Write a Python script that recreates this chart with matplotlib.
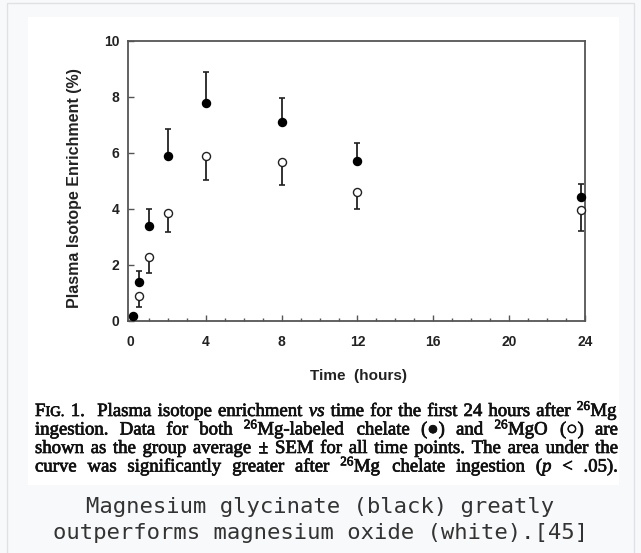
import matplotlib
matplotlib.use("Agg")
import matplotlib.pyplot as plt
import matplotlib.patheffects as pe
from matplotlib.patches import Rectangle
from matplotlib.ticker import MultipleLocator
from matplotlib.transforms import IdentityTransform

# Plasma isotope enrichment (%)
chelate_time = [0.17, 0.5, 1, 2, 4, 8, 12, 23.8]
chelate_mean = [0.17, 1.39, 3.41, 5.89, 7.77, 7.11, 5.71, 4.43]
chelate_sem = [0, 0.38, 0.59, 0.95, 1.12, 0.84, 0.65, 0.45]

oxide_time = [0.5, 1, 2, 4, 8, 12, 23.8]
oxide_mean = [0.91, 2.27, 3.84, 5.89, 5.67, 4.61, 3.98]
oxide_sem = [0.40, 0.57, 0.66, 0.84, 0.83, 0.61, 0.75]

x_ticks = [0, 4, 8, 12, 16, 20, 24]
y_ticks = [0, 2, 4, 6, 8, 10]

W, H = 641, 553
plt.rcParams["mathtext.fontset"] = "custom"
plt.rcParams["mathtext.rm"] = "Liberation Serif"
plt.rcParams["mathtext.it"] = "Liberation Serif:italic"

fig = plt.figure(figsize=(W / 100, H / 100), dpi=100, facecolor="#f8f9fa")
px = IdentityTransform()

# page frame + white scanned image area (behind the axes)
fig.patches.append(Rectangle((7, -5), W - 14, H + 2, transform=px,
                             facecolor="none", edgecolor="#dfe1e4", lw=1, zorder=-2))
fig.patches.append(Rectangle((28, H - 485), 591, 468, transform=px,
                             facecolor="white", edgecolor="none", zorder=-1))

# axes placed in pixel terms
left, right, top, bottom = 127.5, 585, 41, 321
ax = fig.add_axes([left / W, (H - bottom) / H, (right - left) / W, (bottom - top) / H])
ax.set_xlim(-0.13, 24.0)
ax.set_ylim(0, 10)

ink = "#222222"
tick_font = dict(family="Liberation Sans", weight="bold", size=10)

# one-sided SEM bars: chelate up, oxide down
c_idx = [i for i, s in enumerate(chelate_sem) if s > 0]
ax.errorbar([chelate_time[i] for i in c_idx], [chelate_mean[i] for i in c_idx],
            yerr=[[0] * len(c_idx), [chelate_sem[i] for i in c_idx]],
            fmt="none", ecolor=ink, elinewidth=1.3, capsize=2.5, capthick=1.2, clip_on=False)
ax.errorbar(oxide_time, oxide_mean, yerr=[oxide_sem, [0] * len(oxide_sem)],
            fmt="none", ecolor=ink, elinewidth=1.3, capsize=2.5, capthick=1.2, clip_on=False)
ax.plot(chelate_time, chelate_mean, "o", ms=5.8, mfc="black", mec="black", zorder=4, clip_on=False)
ax.plot(oxide_time, oxide_mean, "o", ms=5.8, mfc="white", mec=ink, mew=1.0, zorder=4, clip_on=False)

for sp in ax.spines.values():
    sp.set_color("#555555")
    sp.set_linewidth(1.3)

ax.set_xticks(x_ticks)
ax.set_yticks(y_ticks)
ax.xaxis.set_minor_locator(MultipleLocator(1))
ax.tick_params(axis="both", which="major", direction="in", length=4, width=1, color="#555555")
ax.tick_params(axis="x", which="minor", direction="in", length=2.5, width=1, color="#555555")
ax.tick_params(axis="x", pad=10)
ax.tick_params(axis="y", pad=6)
for lab in ax.get_xticklabels() + ax.get_yticklabels():
    lab.set_fontproperties(tick_font)
    lab.set_color(ink)

ax.set_xlabel("Time  (hours)", fontfamily="Liberation Sans", fontweight="bold", fontsize=11, color=ink)
ax.set_ylabel("Plasma Isotope Enrichment (%)", fontfamily="Liberation Sans", fontweight="bold",
              fontsize=11.5, color=ink)
ax.xaxis.set_label_coords(0.504, -0.172)
ax.yaxis.set_label_coords(-0.1, 0.475)

# justified journal caption
serif = dict(family=["Liberation Serif", "DejaVu Serif"], size=13.5, color="#111111")
thick = [pe.withStroke(linewidth=0.5, foreground="#111111")]
it = {"style": "italic"}
caption_lines = [
    [[("F", {}), ("IG.", {"size": 10.5})], "1.", "", "Plasma", "isotope", "enrichment",
     [("vs", it)], "time", "for", "the", "first", "24", "hours", "after", r"$^{26}$Mg"],
    ["ingestion.", "Data", "for", "both", r"$^{26}$Mg-labeled", "chelate", "(\u25cf)", "and",
     r"$^{26}$MgO", "(\u25cb)", "are"],
    ["shown", "as", "the", "group", "average", "\u00b1", "SEM", "for", "all", "time", "points.",
     "The", "area", "under", "the"],
    ["curve", "was", "significantly", "greater", "after", r"$^{26}$Mg", "chelate", "ingestion",
     [("(", {}), ("p", it)], "<", ".05)."],
]
baselines = [416, 434.5, 453, 471.5]
x0, x1 = 35, 618

renderer = fig.canvas.get_renderer()
for words, yb in zip(caption_lines, baselines):
    groups = []
    for w in words:
        pieces = [(w, {})] if isinstance(w, str) else w
        arts = []
        for s, kw in pieces:
            props = dict(serif)
            props.update(kw)
            t = fig.text(0, H - yb, s, transform=px, ha="left", va="baseline",
                         fontfamily=props.pop("family"), path_effects=thick, **props)
            arts.append(t)
        groups.append(arts)
    widths = [[a.get_window_extent(renderer).width if a.get_text() else 0 for a in g] for g in groups]
    total = sum(sum(w) for w in widths)
    gap = (x1 - x0 - total) / (len(groups) - 1)
    x = x0
    for g, ws in zip(groups, widths):
        for a, w in zip(g, ws):
            a.set_x(x)
            x += w
        x += gap

# web caption below the image
fig.text(W / 2, H - 507, "Magnesium glycinate (black) greatly", transform=px, ha="center",
         va="center", fontfamily="DejaVu Sans Mono", fontsize=16, color="#333333")
fig.text(W / 2, H - 533, "outperforms magnesium oxide (white).[45]", transform=px, ha="center",
         va="center", fontfamily="DejaVu Sans Mono", fontsize=16, color="#333333")

fig.savefig("out.png", dpi=100, facecolor=fig.get_facecolor())
